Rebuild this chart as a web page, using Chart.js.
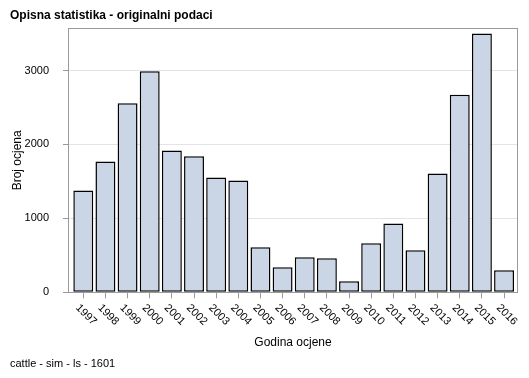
<!DOCTYPE html>
<html>
<head>
<meta charset="utf-8">
<script src="https://cdn.jsdelivr.net/npm/chart.js@4"></script>
<style>
  body { margin: 0; background: #fff; }
  #wrap { width: 529px; height: 378px; position: relative; }
</style>
</head>
<body>
<div id="wrap"><canvas id="ocjeneChart"></canvas></div>
<script>
const years = [1997, 1998, 1999, 2000, 2001, 2002, 2003, 2004, 2005, 2006,
               2007, 2008, 2009, 2010, 2011, 2012, 2013, 2014, 2015, 2016];
const counts = [1378, 1770, 2556, 2990, 1919, 1842, 1554, 1513, 608, 338,
                473, 459, 149, 662, 932, 568, 1608, 2672, 3500, 297];
const yTicks = [0, 1000, 2000, 3000];

const fontFam = '"Liberation Sans", Arial, sans-serif';
const axisGray = '#9a9a9a';

// frame round the plot area
const framePlugin = {
  id: 'frame',
  beforeDatasetsDraw(chart) {
    const a = chart.chartArea, c = chart.ctx;
    c.save();
    c.strokeStyle = axisGray;
    c.lineWidth = 1;
    c.strokeRect(Math.round(a.left) + 0.5, Math.round(a.top) + 0.5,
                 Math.round(a.right - a.left) - 1, Math.round(a.bottom - a.top));
    c.restore();
  }
};

// year labels rotated clockwise, reading down-right
const yearLabels = {
  id: 'yearLabels',
  afterDraw(chart) {
    const sx = chart.scales.x, c = chart.ctx;
    c.save();
    c.font = '11px ' + fontFam;
    c.fillStyle = '#000';
    c.textAlign = 'left';
    c.textBaseline = 'alphabetic';
    years.forEach(y => {
      const x = sx.getPixelForValue(y);
      c.save();
      c.translate(x - 8, sx.top + 16);
      c.rotate(Math.PI / 4);
      c.fillText(String(y), 0, 0);
      c.restore();
    });
    c.restore();
  }
};

const ctx = document.getElementById('ocjeneChart').getContext('2d');
const ocjeneChart = new Chart(ctx, {
  type: 'bar',
  data: {
    labels: years,
    datasets: [{
      label: 'Broj ocjena',
      data: counts,
      backgroundColor: '#cad5e5',
      borderColor: '#000',
      borderWidth: 1.5,
      borderSkipped: false,
      categoryPercentage: 1,
      barPercentage: 0.9
    }]
  },
  options: {
    responsive: true,
    maintainAspectRatio: false,
    animation: false,
    layout: { padding: { left: 10, right: 11, top: 0, bottom: 0 } },
    scales: {
      x: {
        type: 'linear',
        offset: false,
        min: 1996.31,
        max: 2016.63,
        afterBuildTicks(scale) { scale.ticks = years.map(v => ({ value: v })); },
        afterFit(scale) { scale.height = 59.5; },
        border: { display: false },
        grid: { drawOnChartArea: false, offset: false, tickLength: 6, tickColor: axisGray },
        ticks: { display: false },
        title: {
          display: true,
          text: 'Godina ocjene',
          color: '#000',
          font: { family: fontFam, size: 12 },
          padding: { top: 0, bottom: 1.6 }
        }
      },
      y: {
        min: 0,
        max: 3570,
        afterBuildTicks(scale) { scale.ticks = yTicks.map(v => ({ value: v })); },
        afterFit(scale) { scale.width = 58; },
        border: { display: false },
        grid: {
          color: c => c.tick && c.tick.value === 0 ? 'rgba(0,0,0,0)' : '#e3e3e3',
          tickColor: axisGray,
          tickLength: 5
        },
        ticks: {
          padding: 14,
          color: '#000',
          font: { family: fontFam, size: 11 },
          callback: v => String(v)
        },
        title: {
          display: true,
          text: 'Broj ocjena',
          color: '#000',
          font: { family: fontFam, size: 12 },
          padding: { top: 0, bottom: 0 }
        }
      }
    },
    plugins: {
      legend: { display: false },
      tooltip: { enabled: false },
      title: {
        display: true,
        text: 'Opisna statistika - originalni podaci',
        align: 'start',
        color: '#000',
        font: { family: fontFam, size: 12, weight: 'bold' },
        padding: { top: 8, bottom: 6 }
      },
      subtitle: {
        display: true,
        position: 'bottom',
        text: 'cattle - sim - ls - 1601',
        align: 'start',
        color: '#000',
        font: { family: fontFam, size: 11 },
        padding: { top: 6, bottom: 7 }
      }
    }
  },
  plugins: [framePlugin, yearLabels]
});
</script>
</body>
</html>
